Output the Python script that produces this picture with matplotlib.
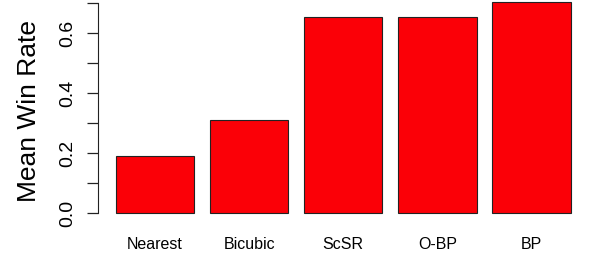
import matplotlib
matplotlib.use("Agg")
import matplotlib.pyplot as plt
import numpy as np

# data
methods = ["Nearest", "Bicubic", "ScSR", "O-BP", "BP"]
win_rate = [0.191, 0.310, 0.652, 0.653, 0.703]

plt.rcParams["font.family"] = ["Liberation Sans", "DejaVu Sans"]

fig = plt.figure(figsize=(5.91, 2.69), dpi=100)
ax = fig.add_axes([0.165, 0.177, 0.8315, 0.823])

# R-style barplot: width 1, space 0.2
pos = 0.2 + np.arange(len(methods)) * 1.2 + 0.5
ax.bar(pos, win_rate, width=1.0, color="#fb0007", edgecolor="#222222", linewidth=0.8)

ax.set_xlim(-0.032, 6.232)
ax.set_ylim(-0.028, 0.71)

for s in ["top", "right", "bottom"]:
    ax.spines[s].set_visible(False)
ax.spines["left"].set_bounds(0, 0.7)
ax.spines["left"].set_color("#222222")

yt = np.arange(0, 0.71, 0.1)
ax.set_yticks(yt)
ax.set_yticklabels(["%.1f" % v if i % 2 == 0 else "" for i, v in enumerate(yt)],
                   rotation=90, va="center", fontsize=14)
ax.tick_params(axis="y", length=8, width=0.9, pad=7, color="#222222")

ax.set_xticks(pos)
ax.set_xticklabels(methods, fontsize=11.5)
ax.tick_params(axis="x", length=0, pad=11)

ax.set_ylabel("Mean Win Rate", fontsize=19)
ax.yaxis.set_label_coords(-0.115, 0.5)

fig.savefig("out.png", dpi=100)
